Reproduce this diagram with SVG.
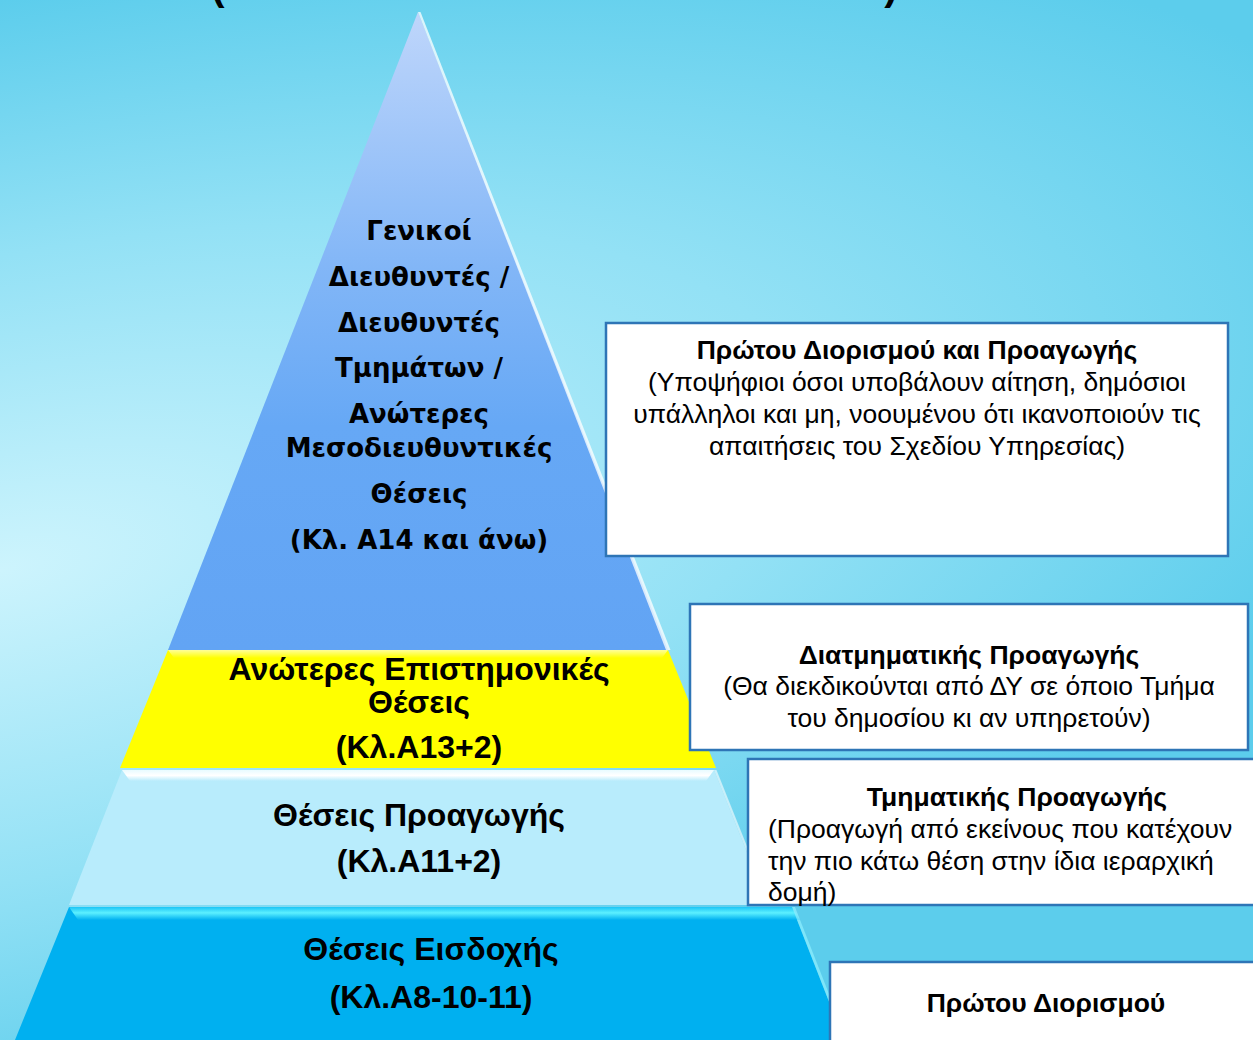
<svg xmlns="http://www.w3.org/2000/svg" width="1253" height="1040" viewBox="0 0 1253 1040">
  <defs>
    <radialGradient id="bg" gradientUnits="userSpaceOnUse" cx="0" cy="0" r="1" gradientTransform="translate(0 570) rotate(-12) scale(1500 560)">
      <stop offset="0" stop-color="#cdf4fd"/>
      <stop offset="0.55" stop-color="#93e1f5"/>
      <stop offset="1" stop-color="#5ccdec"/>
    </radialGradient>
    <linearGradient id="topTier" gradientUnits="userSpaceOnUse" x1="0" y1="12" x2="0" y2="650">
      <stop offset="0" stop-color="#bfd6fb"/>
      <stop offset="0.4" stop-color="#82b6f7"/>
      <stop offset="0.65" stop-color="#66a8f5"/>
      <stop offset="1" stop-color="#62a4f4"/>
    </linearGradient>
    <linearGradient id="yBevel" x1="0" y1="0" x2="0" y2="1">
      <stop offset="0" stop-color="#ffff9a"/>
      <stop offset="1" stop-color="#ffff00"/>
    </linearGradient>
    <linearGradient id="lBevel" x1="0" y1="0" x2="0" y2="1">
      <stop offset="0" stop-color="#e8fbff"/>
      <stop offset="0.5" stop-color="#ffffff"/>
      <stop offset="1" stop-color="#b8ecfc"/>
    </linearGradient>
    <linearGradient id="bBevel" x1="0" y1="0" x2="0" y2="1">
      <stop offset="0" stop-color="#1cc4f6"/>
      <stop offset="0.45" stop-color="#5cf0ff"/>
      <stop offset="1" stop-color="#00b0f0"/>
    </linearGradient>
    <style>
      .pt { font-family: "DejaVu Sans", Verdana, sans-serif; font-weight: bold; font-size: 26px; fill: #000; text-anchor: middle; }
      .tt { font-family: "Liberation Sans", Arial, sans-serif; font-weight: bold; font-size: 32px; fill: #000; text-anchor: middle; }
      .bh { font-family: "Liberation Sans", Arial, sans-serif; font-weight: bold; font-size: 26.5px; fill: #000; text-anchor: middle; }
      .bt { font-family: "Liberation Sans", Arial, sans-serif; font-size: 26.5px; fill: #000; text-anchor: middle; }
      .btl { font-family: "Liberation Sans", Arial, sans-serif; font-size: 26.5px; fill: #000; }
      .box { fill: #ffffff; stroke: #2e75b6; stroke-width: 2.5; }
      .hl { fill: #ffffff; }
      .cut { font-family: "Liberation Sans", Arial, sans-serif; font-weight: bold; font-size: 40px; fill: #000; text-anchor: middle; }
    </style>
  </defs>

  <rect x="0" y="0" width="1253" height="1040" fill="url(#bg)"/>
  <text class="cut" x="218" y="0">(</text>
  <text class="cut" x="891" y="0">)</text>

  <g id="tier-bottom">
    <polygon points="69,907 792,907 844,1040 15,1040" fill="#00b0f0"/>
    <polygon points="69,907 792,907 800,920 78,920" fill="url(#bBevel)"/>
    <polygon points="792,907 795,907 847,1040 844,1040" fill="#8ef0ff" opacity="0.7"/>
    <text class="tt" x="431" y="960">Θέσεις Εισδοχής</text>
    <text class="tt" x="431" y="1008">(Κλ.Α8-10-11)</text>
  </g>

  <g id="tier-light">
    <polygon points="122,770 714,770 768,905 69,905" fill="#b8ecfc"/>
    <polygon points="122,770 714,770 706,781 130,781" fill="url(#lBevel)"/>
    <polygon points="714,770 716.5,770 770.5,905 768,905" class="hl" opacity="0.6"/>
    <text class="tt" x="419" y="826">Θέσεις Προαγωγής</text>
    <text class="tt" x="419" y="872">(Κλ.Α11+2)</text>
  </g>

  <g id="tier-yellow">
    <polygon points="168,650 668,650 716,768 120,768" fill="#ffff00"/>
    <polygon points="168,650 668,650 662,658 174,658" fill="url(#yBevel)"/>
    <text class="tt" x="419" y="680">Ανώτερες Επιστημονικές</text>
    <text class="tt" x="419" y="713">Θέσεις</text>
    <text class="tt" x="419" y="758">(Κλ.Α13+2)</text>
  </g>

  <g id="tier-top">
    <polygon points="418,12 668,650 168,650" fill="url(#topTier)"/>
    <polygon points="418,12 420.5,12 670.5,650 666,650" class="hl" opacity="0.75"/>
    <text class="pt" x="419" y="240">Γενικοί</text>
    <text class="pt" x="419" y="286">Διευθυντές /</text>
    <text class="pt" x="419" y="332">Διευθυντές</text>
    <text class="pt" x="419" y="377">Τμημάτων /</text>
    <text class="pt" x="419" y="423">Ανώτερες</text>
    <text class="pt" x="419" y="457">Μεσοδιευθυντικές</text>
    <text class="pt" x="419" y="503">Θέσεις</text>
    <text class="pt" x="419" y="549">(Κλ. Α14 και άνω)</text>
  </g>

  <g id="connectors"/>

  <g id="box-1">
    <rect class="box" x="606" y="323" width="622" height="233"/>
    <text class="bh" x="917" y="359">Πρώτου Διορισμού και Προαγωγής</text>
    <text class="bt" x="917" y="391">(Υποψήφιοι όσοι υποβάλουν αίτηση, δημόσιοι</text>
    <text class="bt" x="917" y="423">υπάλληλοι και μη, νοουμένου ότι ικανοποιούν τις</text>
    <text class="bt" x="917" y="455">απαιτήσεις του Σχεδίου Υπηρεσίας)</text>
  </g>

  <g id="box-2">
    <rect class="box" x="690" y="604" width="558" height="146"/>
    <text class="bh" x="969" y="664">Διατμηματικής Προαγωγής</text>
    <text class="bt" x="969" y="695">(Θα διεκδικούνται από ΔΥ σε όποιο Τμήμα</text>
    <text class="bt" x="969" y="727">του δημοσίου κι αν υπηρετούν)</text>
  </g>

  <g id="box-3">
    <rect class="box" x="748" y="759" width="520" height="146"/>
    <text class="bh" x="1017" y="806">Τμηματικής Προαγωγής</text>
    <text class="btl" x="768" y="838">(Προαγωγή από εκείνους που κατέχουν</text>
    <text class="btl" x="768" y="870">την πιο κάτω θέση στην ίδια ιεραρχική</text>
    <text class="btl" x="768" y="901">δομή)</text>
  </g>

  <g id="box-4">
    <rect class="box" x="830" y="962" width="440" height="100"/>
    <text class="bh" x="1046" y="1012">Πρώτου Διορισμού</text>
  </g>
</svg>
